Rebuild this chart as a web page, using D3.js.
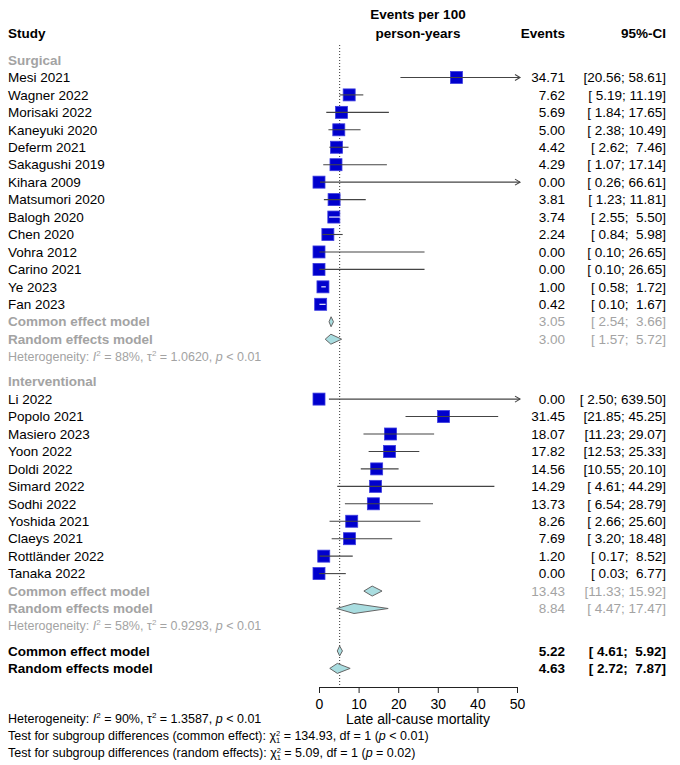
<!DOCTYPE html>
<html>
<head>
<meta charset="utf-8">
<script src="https://cdn.jsdelivr.net/npm/d3@7"></script>
<style>
body { margin: 0; background: #fff; }
svg text { font-family: "Liberation Sans", Arial, sans-serif; white-space: pre; }
</style>
</head>
<body>
<svg id="chart" width="680" height="765"></svg>
<script>
// Data

const surgicalStudies = ['Mesi 2021', 'Wagner 2022', 'Morisaki 2022', 'Kaneyuki 2020', 'Deferm 2021',
    'Sakagushi 2019', 'Kihara 2009', 'Matsumori 2020', 'Balogh 2020', 'Chen 2020', 'Vohra 2012',
    'Carino 2021', 'Ye 2023', 'Fan 2023'];
const surgicalRates = [34.71, 7.62, 5.69, 5.00, 4.42, 4.29, 0.00, 3.81, 3.74, 2.24, 0.00, 0.00, 1.00, 0.42];
const surgicalLower = [20.56, 5.19, 1.84, 2.38, 2.62, 1.07, 0.26, 1.23, 2.55, 0.84, 0.10, 0.10, 0.58, 0.10];
const surgicalUpper = [58.61, 11.19, 17.65, 10.49, 7.46, 17.14, 66.61, 11.81, 5.50, 5.98, 26.65, 26.65, 1.72, 1.67];

const interventionalStudies = ['Li 2022', 'Popolo 2021', 'Masiero 2023', 'Yoon 2022', 'Doldi 2022',
    'Simard 2022', 'Sodhi 2022', 'Yoshida 2021', 'Claeys 2021', 'Rottländer 2022', 'Tanaka 2022'];
const interventionalRates = [0.00, 31.45, 18.07, 17.82, 14.56, 14.29, 13.73, 8.26, 7.69, 1.20, 0.00];
const interventionalLower = [2.50, 21.85, 11.23, 12.53, 10.55, 4.61, 6.54, 2.66, 3.20, 0.17, 0.03];
const interventionalUpper = [639.50, 45.25, 29.07, 25.33, 20.10, 44.29, 28.79, 25.60, 18.48, 8.52, 6.77];

// pooled estimates: [common, random] as [rate, lower, upper]
const surgicalPooled = [[3.05, 2.54, 3.66], [3.00, 1.57, 5.72]];
const interventionalPooled = [[13.43, 11.33, 15.92], [8.84, 4.47, 17.47]];
const overallPooled = [[5.22, 4.61, 5.92], [4.63, 2.72, 7.87]];

const surgicalHet = ['88%', '1.0620', '< 0.01'];
const interventionalHet = ['58%', '0.9293', '< 0.01'];
const overallHet = ['90%', '1.3587', '< 0.01'];

const subgroupTests = [['common effect', '134.93', '1', '< 0.01'], ['random effects', '5.09', '1', '= 0.02']];

const axisTicks = [0, 10, 20, 30, 40, 50];
const axisTitle = 'Late all-cause mortality';
const modelLabels = ['Common effect model', 'Random effects model'];


const svg = d3.select('#chart');
const x = d3.scaleLinear().domain([0, 50]).range([319, 517]);

const gray = '#a3a3a3';
const boxFill = '#0000cd';
const diamondFill = '#a9dde0';
const rowH = 17.45;
const box = 12;
const colEvents = 565;
const colCI = 666;
const fs = '13.5px';
const fsSmall = '12.5px';

function fmt(v) { return v.toFixed(2); }
function ciText(lo, hi) { return '[' + fmt(lo).padStart(5) + '; ' + fmt(hi).padStart(5) + ']'; }

function txt(xp, yp, s, opts) {
    opts = opts || {};
    return svg.append('text')
        .attr('x', xp).attr('y', yp).attr('dy', '0.35em')
        .attr('text-anchor', opts.anchor || 'start')
        .attr('font-size', opts.size || fs)
        .attr('font-weight', opts.bold ? 'bold' : 'normal')
        .attr('fill', opts.color || '#000')
        .text(s);
}

// header
txt(8, 33, 'Study', { bold: true });
txt(418, 14, 'Events per 100', { bold: true, anchor: 'middle' });
txt(418, 33, 'person-years', { bold: true, anchor: 'middle' });
txt(colEvents, 33, 'Events', { bold: true, anchor: 'end' });
txt(colCI, 33, '95%-CI', { bold: true, anchor: 'end' });

// reference line at the overall common effect
svg.append('line')
    .attr('x1', x(overallPooled[0][0])).attr('x2', x(overallPooled[0][0]))
    .attr('y1', 45).attr('y2', 687)
    .attr('stroke', '#333').attr('stroke-width', 1).attr('stroke-dasharray', '1,2');

function arrow(xe, yp) {
    svg.append('path')
        .attr('d', `M${xe - 5},${yp - 3}L${xe},${yp}L${xe - 5},${yp + 3}`)
        .attr('fill', 'none').attr('stroke', '#444').attr('stroke-width', 1.1);
}

function studyRow(name, rate, lo, hi, yp) {
    txt(8, yp, name);
    txt(colEvents, yp, fmt(rate), { anchor: 'end' });
    txt(colCI, yp, ciText(lo, hi), { anchor: 'end' });

    svg.append('rect')
        .attr('x', x(rate) - box / 2).attr('y', yp - box / 2)
        .attr('width', box).attr('height', box)
        .attr('fill', boxFill).attr('stroke', '#3d3de0').attr('stroke-width', 0.8);

    const clipped = hi > 50;
    const x1 = x(lo);
    const x2 = clipped ? x(50) + 3 : x(hi);
    const inside = (x2 - x1) < box && !clipped;
    svg.append('line')
        .attr('x1', x1).attr('x2', x2).attr('y1', yp).attr('y2', yp)
        .attr('stroke', inside ? '#fff' : '#444').attr('stroke-width', 1.1);
    if (clipped) arrow(x2, yp);
}

function diamond(est, yp) {
    svg.append('path')
        .attr('d', `M${x(est[1])},${yp}L${x(est[0])},${yp - 5}L${x(est[2])},${yp}L${x(est[0])},${yp + 5}Z`)
        .attr('fill', diamondFill).attr('stroke', '#666').attr('stroke-width', 1);
}

function pooledRows(pooled, yStart, isSub) {
    pooled.forEach((est, i) => {
        const yp = yStart + i * rowH;
        const col = isSub ? gray : '#000';
        txt(8, yp, modelLabels[i], { bold: true, color: col });
        txt(colEvents, yp, fmt(est[0]), { anchor: 'end', color: col, bold: !isSub });
        txt(colCI, yp, ciText(est[1], est[2]), { anchor: 'end', color: col, bold: !isSub });
        diamond(est, yp);
    });
}

function hetText(het, xp, yp, color) {
    const t = svg.append('text')
        .attr('x', xp).attr('y', yp).attr('dy', '0.35em')
        .attr('font-size', fsSmall).attr('fill', color);
    t.append('tspan').text('Heterogeneity: ');
    t.append('tspan').attr('font-style', 'italic').text('I');
    t.append('tspan').attr('font-size', '8px').attr('dy', -5).text('2');
    t.append('tspan').attr('dy', 5).text(' = ' + het[0] + ', τ');
    t.append('tspan').attr('font-size', '8px').attr('dy', -5).text('2');
    t.append('tspan').attr('dy', 5).text(' = ' + het[1] + ', ');
    t.append('tspan').attr('font-style', 'italic').text('p');
    t.append('tspan').text(' ' + het[2]);
}

function group(title, names, rates, lower, upper, pooled, het, yTop) {
    txt(8, yTop, title, { bold: true, color: gray });
    names.forEach((n, i) => studyRow(n, rates[i], lower[i], upper[i], yTop + (i + 1) * rowH));
    const yPool = yTop + (names.length + 1) * rowH;
    pooledRows(pooled, yPool, true);
    const yHet = yPool + 2 * rowH;
    hetText(het, 8, yHet, gray);
    return yHet;
}

let yEnd = group('Surgical', surgicalStudies, surgicalRates, surgicalLower, surgicalUpper,
    surgicalPooled, surgicalHet, 60);
yEnd = group('Interventional', interventionalStudies, interventionalRates, interventionalLower,
    interventionalUpper, interventionalPooled, interventionalHet, yEnd + 25);
pooledRows(overallPooled, yEnd + 25, false);

// x axis
const axisY = 687;
const gAxis = svg.append('g')
    .attr('transform', `translate(0,${axisY})`)
    .call(d3.axisBottom(x).tickValues(axisTicks).tickSize(6).tickSizeOuter(0).tickPadding(6));
gAxis.select('.domain').attr('stroke', '#222');
gAxis.selectAll('.tick line').attr('stroke', '#222');
gAxis.selectAll('.tick text')
    .attr('font-family', '"Liberation Sans", Arial, sans-serif')
    .attr('font-size', '14px').attr('fill', '#000');

txt(418, 719, axisTitle, { anchor: 'middle', size: '14px' });

// bottom statistics
hetText(overallHet, 8, 719, '#000');

subgroupTests.forEach((tst, i) => {
    const t = svg.append('text')
        .attr('x', 8).attr('y', 736 + i * 17).attr('dy', '0.35em')
        .attr('font-size', fsSmall).attr('fill', '#000');
    t.append('tspan').text('Test for subgroup differences (' + tst[0] + '): χ');
    t.append('tspan').attr('font-size', '7.5px').attr('dy', -4.5).text('2');
    t.append('tspan').attr('font-size', '7.5px').attr('dx', -4.2).attr('dy', 7.5).text('1');
    t.append('tspan').attr('dy', -3).text(' = ' + tst[1] + ', df = ' + tst[2] + ' (');
    t.append('tspan').attr('font-style', 'italic').text('p');
    t.append('tspan').text(' ' + tst[3] + ')');
});
</script>
</body>
</html>
